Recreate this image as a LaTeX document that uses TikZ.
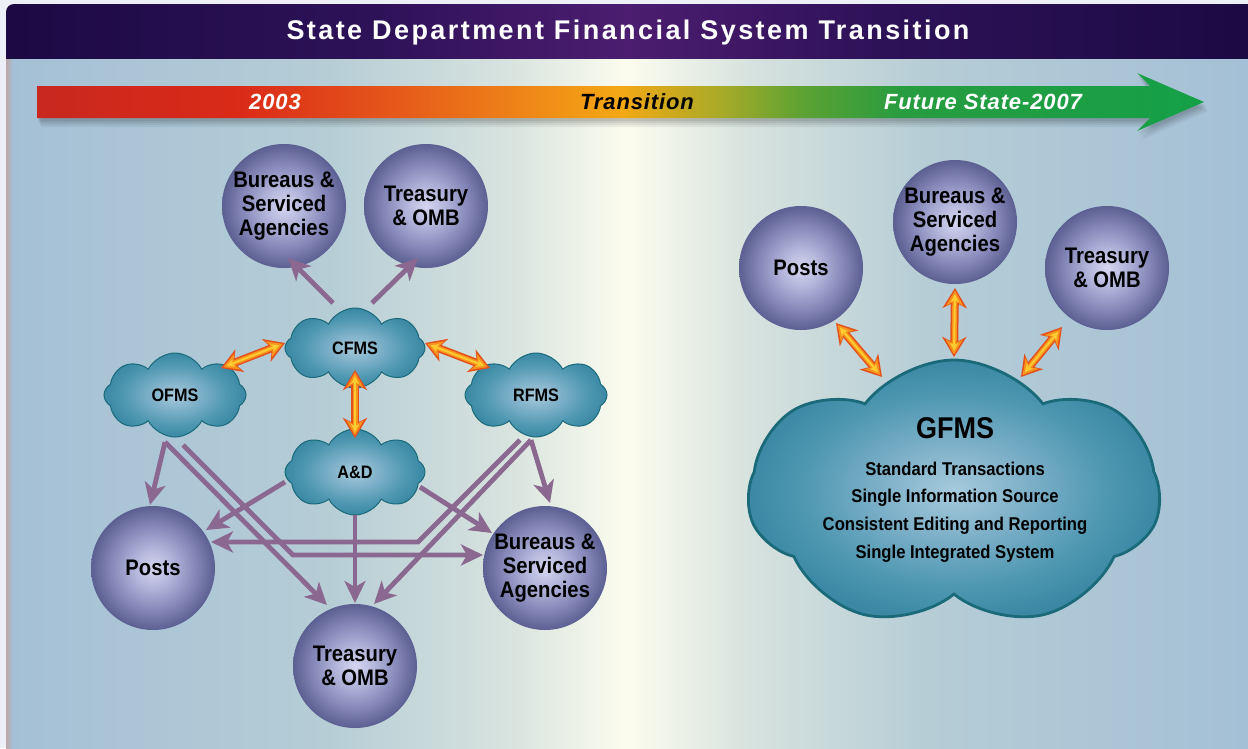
\documentclass[tikz,border=0pt]{standalone}
\usepackage{fontspec}
\setmainfont{Liberation Sans}[FakeStretch=0.9]
\newfontfamily\tlfont{Liberation Sans}[LetterSpace=4]
\newfontfamily\titlefont{Liberation Sans}[LetterSpace=9]
\usetikzlibrary{shapes.symbols,arrows.meta,calc}

\definecolor{pageclr}{HTML}{EEF0F8}
\definecolor{bgA}{HTML}{A4C0D6}
\definecolor{bgB}{HTML}{B6CDD6}
\definecolor{bgC}{HTML}{D6E2DE}
\definecolor{bgD}{HTML}{FCFCEE}
\definecolor{stripclr}{HTML}{BCA8A8}
\definecolor{tiA}{HTML}{1C0A44}
\definecolor{tiB}{HTML}{2E1258}
\definecolor{tiC}{HTML}{4C1D70}
\definecolor{tlA}{HTML}{C8281E}
\definecolor{tlB}{HTML}{DA2A18}
\definecolor{tlC}{HTML}{E65A1A}
\definecolor{tlD}{HTML}{EE8418}
\definecolor{tlE}{HTML}{F4A814}
\definecolor{tlF}{HTML}{A8AA28}
\definecolor{tlG}{HTML}{5EA232}
\definecolor{tlH}{HTML}{289C40}
\definecolor{tlI}{HTML}{14A048}
\definecolor{spA}{HTML}{D6D6F0}
\definecolor{spB}{HTML}{B2B4DA}
\definecolor{spC}{HTML}{8588B8}
\definecolor{spD}{HTML}{5B5F91}
\definecolor{clA}{HTML}{A6CADC}
\definecolor{clB}{HTML}{7DB0C8}
\definecolor{clC}{HTML}{5098B2}
\definecolor{clD}{HTML}{3A88A4}
\definecolor{cledge}{HTML}{1A6A7A}
\definecolor{purp}{HTML}{8A6890}
\definecolor{orA}{HTML}{E4501A}
\definecolor{orB}{HTML}{F8921E}
\definecolor{orC}{HTML}{FFCC30}

\pgfdeclarehorizontalshading{bgsh}{100bp}{color(0bp)=(bgA); color(25bp)=(bgA); color(38bp)=(bgB); color(45bp)=(bgC); color(50bp)=(bgD); color(55bp)=(bgC); color(62bp)=(bgB); color(75bp)=(bgA); color(100bp)=(bgA)}
\pgfdeclarehorizontalshading{titsh}{100bp}{color(0bp)=(tiA); color(25bp)=(tiA); color(40bp)=(tiB); color(50bp)=(tiC); color(60bp)=(tiB); color(75bp)=(tiA); color(100bp)=(tiA)}
\pgfdeclarehorizontalshading{tlsh}{100bp}{color(0bp)=(tlA); color(25bp)=(tlA); color(33.7bp)=(tlB); color(40.6bp)=(tlC); color(45.7bp)=(tlD); color(50bp)=(tlE); color(54.3bp)=(tlF); color(57.7bp)=(tlG); color(62bp)=(tlH); color(75bp)=(tlI); color(100bp)=(tlI)}
\pgfdeclareradialshading{sphsh}{\pgfpoint{0bp}{0bp}}{color(0bp)=(spA); color(8bp)=(spB); color(17bp)=(spC); color(25bp)=(spD); color(50bp)=(spD)}
\pgfdeclareradialshading{clsh}{\pgfpoint{0bp}{0bp}}{color(0bp)=(clA); color(9bp)=(clB); color(18bp)=(clC); color(25bp)=(clD); color(50bp)=(clD)}

\begin{document}
\begin{tikzpicture}[x=1pt,y=-1pt,
  sphere/.style={circle, minimum size=124pt, inner sep=0pt, shade, shading=sphsh, align=center,
    font=\bfseries\fontsize{22.5}{24}\selectfont},
  cloudnode/.style={cloud, cloud puffs=8, cloud puff arc=125, cloud ignores aspect, inner sep=0pt,
    shade, shading=clsh, draw=cledge, line width=1pt, font=\bfseries\fontsize{18}{20}\selectfont},
  parrow/.style={draw=purp, line width=4.8pt, -{Stealth[length=22pt,width=21pt,inset=6pt]}},
  orout/.style={draw=orA, line width=8pt, {Stealth[length=20pt,width=24pt,inset=6pt]}-{Stealth[length=20pt,width=24pt,inset=6pt]}},
  ormid/.style={draw=orB, line width=5pt, shorten >=2.5pt, shorten <=2.5pt, {Stealth[length=15pt,width=17pt,inset=4.5pt]}-{Stealth[length=15pt,width=17pt,inset=4.5pt]}},
  orin/.style={draw=orC, line width=2pt, shorten >=6pt, shorten <=6pt, {Stealth[length=8pt,width=8pt,inset=2pt]}-{Stealth[length=8pt,width=8pt,inset=2pt]}},
  tltext/.style={font=\tlfont\bfseries\itshape\fontsize{22}{24}\selectfont}
]
\useasboundingbox (0,0) rectangle (1248,748);
\fill[pageclr] (0,0) rectangle (1248,748);
% panel
\shade[shading=bgsh] (6,56) rectangle (1248,748);
\shade[left color=stripclr, right color=bgA] (6,56) rectangle (13,748);
% title bar
\begin{scope}
  \clip[rounded corners=8pt] (6,4) rectangle (1270,90);
  \shade[shading=titsh] (6,4) rectangle (1248,58);
\end{scope}
\node[font=\titlefont\bfseries\fontsize{27}{30}\selectfont, text=white] (title) at (628,33) {State Department Financial System Transition};

% timeline arrow with soft shadow
\foreach \dx/\dy/\op in {1/3/0.07, 2/5/0.07, 3/7/0.06, 4/9/0.05}{
  \fill[black, opacity=\op] (37+\dx,86+\dy) -- (1150+\dx,86+\dy) -- (1137+\dx,73+\dy) -- (1204+\dx,102+\dy) -- (1137+\dx,131+\dy) -- (1150+\dx,118+\dy) -- (37+\dx,118+\dy) -- cycle;
}
\shade[shading=tlsh] (37,86) -- (1150,86) -- (1137,73) -- (1204,102) -- (1137,131) -- (1150,118) -- (37,118) -- cycle;
\node[tltext, text=white] (y2003) at (275,102) {2003};
\node[tltext, text=black] (ytrans) at (637,102) {Transition};
\node[tltext, text=white] (yfuture) at (983,102) {Future State-2007};

% left clouds
\node[cloudnode, minimum width=140pt, minimum height=80pt] (cfms) at (355,348) {CFMS};
\node[cloudnode, minimum width=142pt, minimum height=84pt] (ofms) at (175,395) {OFMS};
\node[cloudnode, minimum width=142pt, minimum height=84pt] (rfms) at (536,395) {RFMS};
\node[cloudnode, minimum width=140pt, minimum height=86pt] (ad) at (355,472) {A\&D};

% left spheres
\node[sphere] (btop) at (284,206) {Bureaus \&\\Serviced\\Agencies};
\node[sphere] (ttop) at (426,206) {Treasury\\\& OMB};
\node[sphere] (posts) at (153,568) {Posts};
\node[sphere] (bbot) at (545,568) {Bureaus \&\\Serviced\\Agencies};
\node[sphere] (tbot) at (355,666) {Treasury\\\& OMB};

% corner points of bent connectors
\coordinate (kofms) at (293,555);
\coordinate (krfms) at (418,542);

% purple connectors
\draw[parrow] ($(cfms)+(-22,-45)$) -- ($(btop)+(4,52)$);
\draw[parrow] ($(cfms)+(17,-45)$) -- ($(ttop)+(-8,52)$);
\draw[parrow] ($(ofms)+(-10,47)$) -- ($(posts)+(-3,-63)$);
\draw[parrow] ($(ofms)+(-10,47)$) -- ($(tbot)+(-28,-61)$);
\draw[parrow] ($(ofms)+(8,50)$) -- (kofms) -- ($(bbot)+(-62,-13)$);
\draw[parrow] ($(rfms)+(-16,45)$) -- (krfms) -- ($(posts)+(58,-26)$);
\draw[parrow] ($(rfms)+(-5,45)$) -- ($(tbot)+(19,-62)$);
\draw[parrow] ($(rfms)+(-5,45)$) -- ($(bbot)+(5,-65)$);
\draw[parrow] ($(ad)+(-70,10)$) -- ($(posts)+(53,-38)$);
\draw[parrow] ($(ad)+(65,15)$) -- ($(bbot)+(-53,-35)$);
\draw[parrow] ($(ad)+(0,43)$) -- ($(tbot)+(0,-63)$);

% orange connectors (left)
\foreach \s in {orout,ormid,orin}{
  \draw[\s] ($(ofms)+(46,-27)$) -- ($(cfms)+(-70,-5)$);
  \draw[\s] ($(cfms)+(70,-5)$) -- ($(rfms)+(-46,-27)$);
  \draw[\s] ($(cfms)+(0,22)$) -- ($(ad)+(0,-34)$);
}

% right side
\node[cloudnode, cloud puffs=7, cloud puff arc=105, line width=2.8pt, minimum width=412pt, minimum height=268pt] (gfms) at (954,494) {};
\node[font=\bfseries\fontsize{30}{32}\selectfont] (gfmstitle) at (955,428) {GFMS};
\node[font=\bfseries\fontsize{18.5}{27.8}\selectfont, align=center] (gfmslist) at (955,512)
  {Standard Transactions\\Single Information Source\\Consistent Editing and Reporting\\Single Integrated System};

\node[sphere] (rposts) at (801,268) {Posts};
\node[sphere] (rbur) at (955,222) {Bureaus \&\\Serviced\\Agencies};
\node[sphere] (rtre) at (1107,268) {Treasury\\\& OMB};

\foreach \s in {orout,ormid,orin}{
  \draw[\s] ($(rposts)+(35,55)$) -- ($(gfms)+(-72,-117)$);
  \draw[\s] ($(rbur)+(0,66)$) -- ($(gfms)+(0,-137)$);
  \draw[\s] ($(rtre)+(-45,59)$) -- ($(gfms)+(67,-117)$);
}
\end{tikzpicture}
\end{document}
